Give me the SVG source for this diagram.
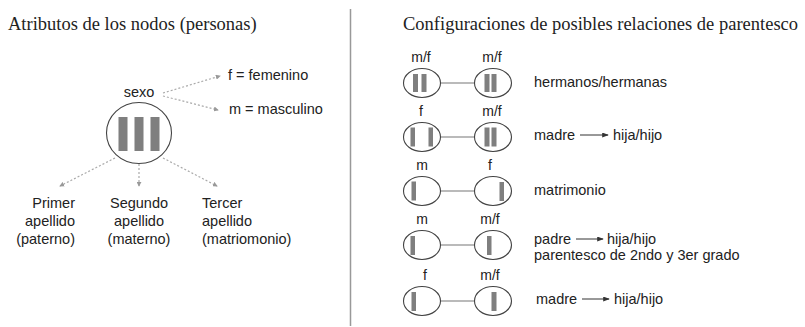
<svg xmlns="http://www.w3.org/2000/svg" width="805" height="327" viewBox="0 0 805 327">
<style>
.title{font-family:"Liberation Serif","Times New Roman",serif;font-size:18.5px;fill:#222}
.t{font-family:"Liberation Sans",Arial,sans-serif;font-size:14.5px;fill:#222}
.lbl{font-family:"Liberation Sans",Arial,sans-serif;font-size:14px;fill:#222;text-anchor:middle}
.node{fill:#fff;stroke:#444;stroke-width:1.1}
.bar{fill:#7f7f7f}
.dot{fill:none;stroke:#aaa;stroke-width:1.2;stroke-dasharray:2 2}
.link{stroke:#777;stroke-width:1.1}
.arr{stroke:#333;stroke-width:1}
</style>
<defs>
<marker id="gh" viewBox="0 0 6 6" refX="5" refY="3" markerWidth="5" markerHeight="5" markerUnits="userSpaceOnUse" orient="auto">
<path d="M0,0 L6,3 L0,6 z" fill="#999"/>
</marker>
<marker id="bh" viewBox="0 0 8 6" refX="7" refY="3" markerWidth="7" markerHeight="5" markerUnits="userSpaceOnUse" orient="auto">
<path d="M0,0 L8,3 L0,6 z" fill="#333"/>
</marker>
</defs>
<rect width="805" height="327" fill="#fff"/>
<text class="title" x="8" y="30">Atributos de los nodos (personas)</text>
<text class="title" x="403" y="30">Configuraciones de posibles relaciones de parentesco</text>
<line x1="350.5" y1="9" x2="350.5" y2="326" stroke="#999" stroke-width="1.5"/>

<g id="connectors">
<line class="dot" x1="163" y1="93" x2="220" y2="76" marker-end="url(#gh)"/>
<line class="dot" x1="163" y1="96" x2="218" y2="110" marker-end="url(#gh)"/>
<line class="dot" x1="115" y1="158" x2="60" y2="186" marker-end="url(#gh)"/>
<line class="dot" x1="139" y1="164" x2="139" y2="186" marker-end="url(#gh)"/>
<line class="dot" x1="163" y1="158" x2="217" y2="186" marker-end="url(#gh)"/>
<line class="link" x1="440.5" y1="83" x2="474.5" y2="83"/>
<line class="link" x1="440.5" y1="137" x2="474.5" y2="137"/>
<line class="link" x1="440.5" y1="191" x2="474.5" y2="191"/>
<line class="link" x1="440.5" y1="245" x2="474.5" y2="245"/>
<line class="link" x1="440.5" y1="301" x2="474.5" y2="301"/>
<line class="arr" x1="580" y1="135" x2="608" y2="135" marker-end="url(#bh)"/>
<line class="arr" x1="576" y1="239" x2="603" y2="239" marker-end="url(#bh)"/>
<line class="arr" x1="582" y1="299" x2="609" y2="299" marker-end="url(#bh)"/>
</g>

<g id="persona">
<ellipse class="node" cx="139" cy="133" rx="32.5" ry="30.5"/>
<rect class="bar" x="118.5" y="117" width="9" height="34"/>
<rect class="bar" x="134.5" y="117" width="9" height="34"/>
<rect class="bar" x="150.5" y="117" width="9" height="34"/>
</g>
<g id="attr-sexo"><text class="t" x="139" y="97" text-anchor="middle" font-size="14">sexo</text></g>
<g id="attr-f"><text class="t" x="228" y="80">f = femenino</text></g>
<g id="attr-m"><text class="t" x="229" y="114">m = masculino</text></g>
<g id="attr-primer">
<text class="t" text-anchor="end"><tspan x="75" y="208">Primer</tspan><tspan x="75" y="226">apellido</tspan><tspan x="75" y="244">(paterno)</tspan></text>
</g>
<g id="attr-segundo">
<text class="t" text-anchor="middle"><tspan x="139" y="208">Segundo</tspan><tspan x="139" y="226">apellido</tspan><tspan x="139" y="244">(materno)</tspan></text>
</g>
<g id="attr-tercer">
<text class="t"><tspan x="202" y="208">Tercer</tspan><tspan x="202" y="226">apellido</tspan><tspan x="202" y="244">(matriomonio)</tspan></text>
</g>

<!-- row 1 -->
<g id="r1-a"><text class="lbl" x="421" y="62">m/f</text><ellipse class="node" cx="422" cy="83" rx="18.5" ry="14.5"/><rect class="bar" x="413" y="74" width="5" height="18"/><rect class="bar" x="421.5" y="74" width="5" height="18"/></g>
<g id="r1-b"><text class="lbl" x="492" y="62">m/f</text><ellipse class="node" cx="493" cy="83" rx="18.5" ry="14.5"/><rect class="bar" x="484.5" y="74" width="5" height="18"/><rect class="bar" x="491.5" y="74" width="5" height="18"/></g>
<g id="r1-text"><text class="t" x="534" y="87">hermanos/hermanas</text></g>

<!-- row 2 -->
<g id="r2-a"><text class="lbl" x="421" y="116">f</text><ellipse class="node" cx="422" cy="137" rx="18.5" ry="14.5"/><rect class="bar" x="410.5" y="127.5" width="4.5" height="19"/><rect class="bar" x="428.5" y="127.5" width="4.5" height="19"/></g>
<g id="r2-b"><text class="lbl" x="492" y="116">m/f</text><ellipse class="node" cx="493" cy="137" rx="18.5" ry="14.5"/><rect class="bar" x="484.5" y="127.5" width="5" height="19"/><rect class="bar" x="491.5" y="127.5" width="5" height="19"/></g>
<g id="r2-text"><text class="t" x="534" y="140">madre</text><text class="t" x="613" y="140">hija/hijo</text></g>

<!-- row 3 -->
<g id="r3-a"><text class="lbl" x="422" y="170">m</text><ellipse class="node" cx="422" cy="191" rx="18.5" ry="14.5"/><rect class="bar" x="411.5" y="181.5" width="4.5" height="19"/></g>
<g id="r3-b"><text class="lbl" x="490" y="170">f</text><ellipse class="node" cx="493" cy="191" rx="18.5" ry="14.5"/><rect class="bar" x="499.5" y="182" width="4.5" height="19"/></g>
<g id="r3-text"><text class="t" x="534" y="195">matrimonio</text></g>

<!-- row 4 -->
<g id="r4-a"><text class="lbl" x="422" y="224">m</text><ellipse class="node" cx="422" cy="245" rx="18.5" ry="14.5"/><rect class="bar" x="410.5" y="236" width="4.5" height="19"/></g>
<g id="r4-b"><text class="lbl" x="490" y="224">m/f</text><ellipse class="node" cx="493" cy="245" rx="18.5" ry="14.5"/><rect class="bar" x="487" y="236" width="4.5" height="19"/></g>
<g id="r4-text"><text class="t" x="534" y="244">padre</text><text class="t" x="607" y="244">hija/hijo</text><text class="t" x="534" y="260">parentesco de 2ndo y 3er grado</text></g>

<!-- row 5 -->
<g id="r5-a"><text class="lbl" x="425" y="280">f</text><ellipse class="node" cx="422" cy="301" rx="18.5" ry="14.5"/><rect class="bar" x="411.5" y="292" width="4.5" height="19"/></g>
<g id="r5-b"><text class="lbl" x="490" y="280">m/f</text><ellipse class="node" cx="493" cy="301" rx="18.5" ry="14.5"/><rect class="bar" x="491.5" y="292" width="5" height="19"/></g>
<g id="r5-text"><text class="t" x="536" y="304">madre</text><text class="t" x="614" y="304">hija/hijo</text></g>
</svg>
